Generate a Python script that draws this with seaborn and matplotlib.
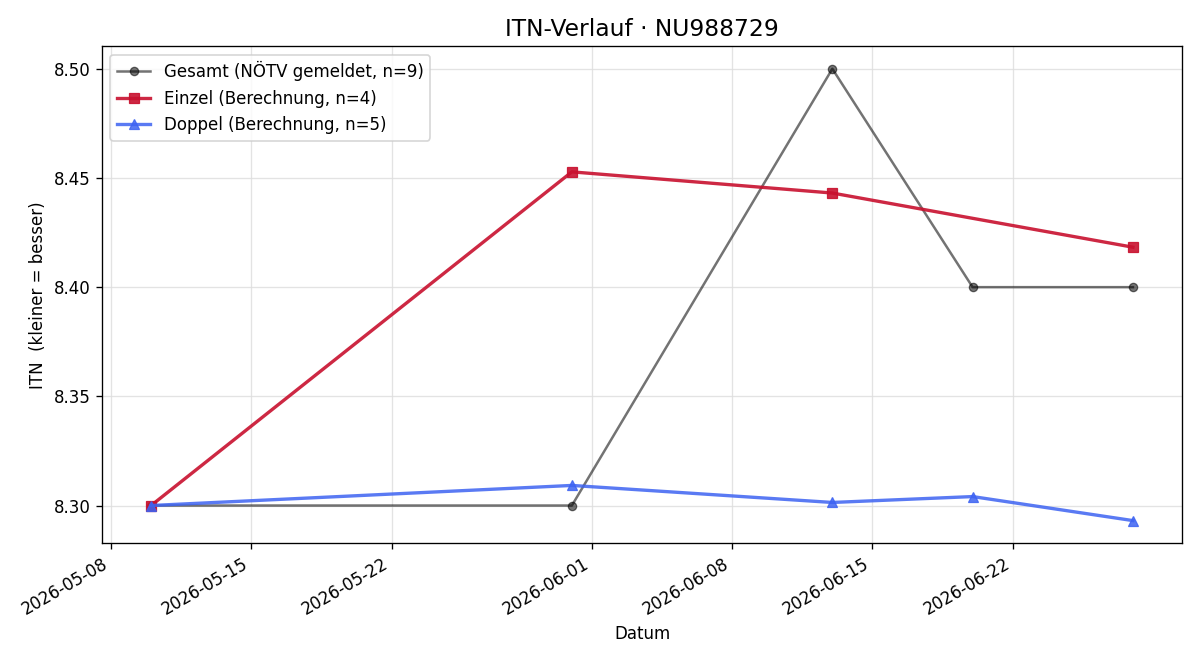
import pandas as pd
import matplotlib
matplotlib.use("Agg")
import matplotlib.pyplot as plt
import seaborn as sns

# ITN values
gesamt_dates = ["2026-05-10", "2026-05-31", "2026-06-13", "2026-06-20", "2026-06-28"]
gesamt_itn = [8.30, 8.30, 8.50, 8.40, 8.40]

einzel_dates = ["2026-05-10", "2026-05-31", "2026-06-13", "2026-06-28"]
einzel_itn = [8.300, 8.4528, 8.4431, 8.4183]

doppel_dates = ["2026-05-10", "2026-05-31", "2026-06-13", "2026-06-20", "2026-06-28"]
doppel_itn = [8.300, 8.3092, 8.3014, 8.3041, 8.2931]

gesamt = pd.DataFrame({"datum": pd.to_datetime(gesamt_dates), "itn": gesamt_itn})
einzel = pd.DataFrame({"datum": pd.to_datetime(einzel_dates), "itn": einzel_itn})
doppel = pd.DataFrame({"datum": pd.to_datetime(doppel_dates), "itn": doppel_itn})

fig, ax = plt.subplots(figsize=(10, 5.5), dpi=120)

sns.lineplot(data=gesamt, x="datum", y="itn", ax=ax, color="black", alpha=0.55,
             marker="o", markersize=5, markeredgecolor="black", linewidth=1.5,
             label="Gesamt (NÖTV gemeldet, n=9)")
sns.lineplot(data=einzel, x="datum", y="itn", ax=ax, color="#c8102e", alpha=0.9,
             marker="s", markersize=6, markeredgecolor="#c8102e", linewidth=2,
             label="Einzel (Berechnung, n=4)")
sns.lineplot(data=doppel, x="datum", y="itn", ax=ax, color="#3d63f2", alpha=0.85,
             marker="^", markersize=6, markeredgecolor="#3d63f2", linewidth=2,
             label="Doppel (Berechnung, n=5)")

ax.set_title("ITN-Verlauf · NU988729", fontsize=14)
ax.set_xlabel("Datum")
ax.set_ylabel("ITN  (kleiner = besser)")
ax.grid(True, color="#dddddd", linewidth=0.8, alpha=0.8)
ax.legend(loc="upper left")
fig.autofmt_xdate()

plt.subplots_adjust(left=0.085, right=0.985, top=0.93, bottom=0.177)
plt.savefig("out.png")
